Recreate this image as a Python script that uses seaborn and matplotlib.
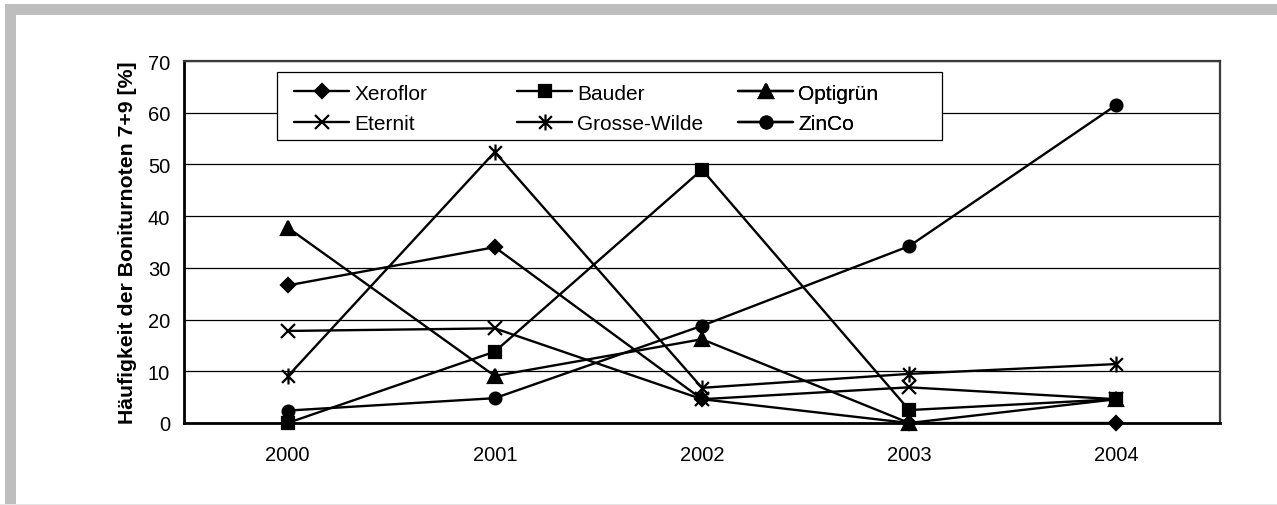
import numpy as np
import pandas as pd
import matplotlib
matplotlib.use("Agg")
import matplotlib.pyplot as plt
import seaborn as sns
from matplotlib.path import Path
from matplotlib.patches import Rectangle

# ---- data ----
years = ["2000", "2001", "2002", "2003", "2004"]
xeroflor = [26.6, 34.0, 4.6, 0.0, 0.0]
bauder = [0.0, 13.8, 49.0, 2.5, 4.6]
optigruen = [37.8, 9.1, 16.2, 0.0, 4.6]
eternit = [17.8, 18.3, 4.6, 6.9, 4.6]
grosse_wilde = [9.0, 52.4, 6.8, 9.5, 11.4]
zinco = [2.4, 4.8, 18.8, 34.2, 61.5]
series_names = ["Xeroflor", "Bauder", "Optigrün", "Eternit", "Grosse-Wilde", "ZinCo"]
series_values = [xeroflor, bauder, optigruen, eternit, grosse_wilde, zinco]
y_ticks = [0, 10, 20, 30, 40, 50, 60, 70]
y_label = "Häufigkeit der Boniturnoten 7+9 [%]"

sns.set_theme(style="white", rc={
    "text.color": "black", "axes.labelcolor": "black",
    "xtick.color": "black", "ytick.color": "black",
})
plt.rcParams["font.family"] = ["Liberation Sans", "DejaVu Sans"]

W, H = 1277, 506
fig = plt.figure(figsize=(W / 100, H / 100), dpi=100)
fig.patch.set_facecolor("white")

# outer grey frame (top and left bands)
gray = "#bebebe"
fig.add_artist(Rectangle((5 / W, (H - 16) / H), 1 - 5 / W, 11 / H,
                         transform=fig.transFigure, fc=gray, ec="none"))
fig.add_artist(Rectangle((5 / W, 0), 11 / W, (H - 5) / H,
                         transform=fig.transFigure, fc=gray, ec="none"))
fig.add_artist(Rectangle((0, 0), 1, 1.2 / H,
                         transform=fig.transFigure, fc="#e4e4e4", ec="none"))

ax_l, ax_r, ax_t, ax_b = 184, 1220, 62, 424
ax = fig.add_axes([ax_l / W, (H - ax_b) / H, (ax_r - ax_l) / W, (ax_b - ax_t) / H])

asterisk = Path([(0, -1), (0, 1), (-0.8, -0.8), (0.8, 0.8), (-0.8, 0.8), (0.8, -0.8)],
                [Path.MOVETO, Path.LINETO, Path.MOVETO, Path.LINETO, Path.MOVETO, Path.LINETO])
marker_styles = {
    "Xeroflor": dict(marker="D", markersize=6.8),
    "Bauder": dict(marker="s", markersize=8.8),
    "Optigrün": dict(marker="^", markersize=10),
    "Eternit": dict(marker="x", markersize=9.5),
    "Grosse-Wilde": dict(marker=asterisk, markersize=11.5),
    "ZinCo": dict(marker="o", markersize=8.5),
}

x_pos = np.arange(len(years))
handles = {}
for name, vals in zip(series_names, series_values):
    df = pd.DataFrame({"x": x_pos, "y": vals})
    sns.lineplot(data=df, x="x", y="y", ax=ax, color="black", lw=1.7,
                 mec="black", mfc="black", mew=1.6, clip_on=False,
                 legend=False, zorder=3, **marker_styles[name])
    ln = ax.lines[-1]
    ln.set_label(name)
    handles[name] = ln

ax.set_xlim(-0.5, len(years) - 0.5)
ax.set_ylim(0, 70)
ax.set_yticks(y_ticks)
ax.set_xticks(np.arange(-0.5, len(years), 1.0))
ax.set_xticklabels([])
ax.set_xticks(x_pos, minor=True)
ax.set_xticklabels(years, minor=True)
ax.tick_params(axis="x", which="major", direction="out", length=7, width=1.4)
ax.tick_params(axis="x", which="minor", length=0, pad=16, labelsize=14.5)
ax.tick_params(axis="y", direction="out", length=7, width=1.4, labelsize=14.5, pad=3)
ax.set_xlabel("")
ax.set_ylabel(y_label, fontsize=15.3, fontweight="bold", labelpad=8)

ax.set_axisbelow(True)
ax.yaxis.grid(True, color="black", lw=0.9)
ax.xaxis.grid(False)
for s in ["left", "bottom"]:
    ax.spines[s].set_linewidth(2.0)
    ax.spines[s].set_color("black")
for s in ["top", "right"]:
    ax.spines[s].set_linewidth(1.6)
    ax.spines[s].set_color("#3a3a3a")

# legend frame
def fx(px):
    return (px - ax_l) / (ax_r - ax_l)

def fy(py):
    return (ax_b - py) / (ax_b - ax_t)

ax.add_patch(Rectangle((fx(277), fy(141)), fx(942) - fx(277), fy(73) - fy(141),
                       transform=ax.transAxes, fc="white", ec="black", lw=0.9,
                       zorder=2.5, clip_on=False))

columns = [["Xeroflor", "Eternit"], ["Bauder", "Grosse-Wilde"], ["Optigrün", "ZinCo"]]
col_x = [294, 517, 738]
for names, xp in zip(columns, col_x):
    leg = ax.legend(handles=[handles[n] for n in names], labels=names,
                    loc="center left", bbox_to_anchor=(fx(xp), fy(109.5)),
                    frameon=False, borderpad=0, borderaxespad=0,
                    handlelength=2.65, handletextpad=0.25, labelspacing=0.56,
                    fontsize=15, numpoints=1)
    leg.set_zorder(5)
    ax.add_artist(leg)

fig.savefig("out.png", dpi=100)
